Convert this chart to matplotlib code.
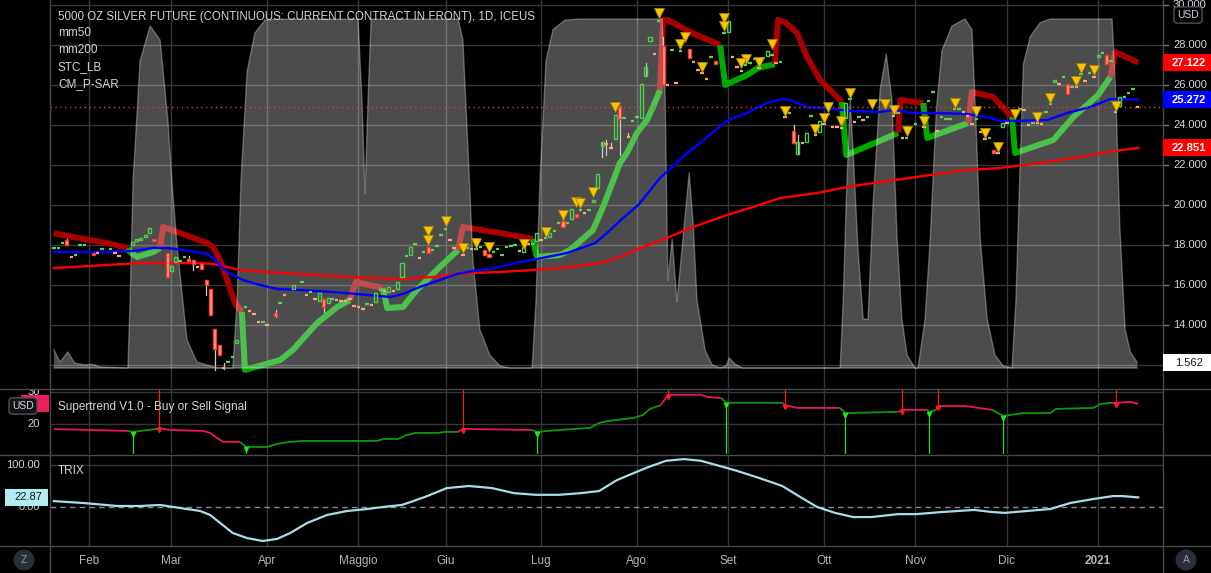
import matplotlib.pyplot as plt
import matplotlib.transforms as mtransforms
from matplotlib.lines import Line2D
from matplotlib.patches import Rectangle, Polygon, Ellipse

plt.rcParams['font.family'] = ['Liberation Sans', 'DejaVu Sans']

# ---------------- data (x = trading-day index, 0 = mid Jan 2020) ----------------
month_bars = [8, 27, 49, 70, 90, 112, 134, 155, 177, 198, 219, 240]
month_labels = ['Feb', 'Mar', 'Apr', 'Maggio', 'Giu', 'Lug', 'Ago', 'Set', 'Ott', 'Nov', 'Dic', '2021']

candle_bar = [0, 1, 2, 3, 4, 5, 6, 7, 9, 10, 11, 13, 14, 15, 18, 19, 20, 21, 22, 23,
              26, 27, 28, 29, 30, 31, 32, 33, 34, 35, 36, 37, 38, 39, 40, 41, 42, 44, 45, 46,
              47, 48, 49, 51, 52, 53, 55, 57, 58, 59, 60, 61, 62, 63, 64, 65, 66, 67, 68, 69,
              70, 71, 72, 73, 74, 75, 76, 77, 78, 79, 80, 81, 82, 83, 84, 85, 86, 87, 88, 89,
              90, 91, 92, 94, 95, 96, 97, 98, 99, 100, 101, 102, 103, 104, 105, 106, 107, 108, 109, 110,
              111, 112, 113, 114, 115, 116, 117, 118, 119, 120, 121, 122, 123, 124, 125, 126, 127, 128, 129, 130,
              131, 132, 133, 134, 135, 136, 137, 138, 139, 140, 141, 142, 143, 144, 146, 147, 148, 149, 150, 151,
              152, 154, 155, 156, 157, 158, 159, 160, 161, 162, 163, 164, 165, 166, 167, 168, 169, 170, 171, 172,
              173, 174, 175, 176, 177, 178, 179, 180, 181, 182, 183, 184, 185, 186, 187, 190, 193, 194, 195, 196,
              198, 200, 201, 202, 203, 204, 205, 206, 207, 208, 209, 210, 211, 212, 213, 214, 215, 216, 217, 218,
              219, 222, 223, 224, 225, 226, 227, 228, 229, 230, 231, 232, 233, 234, 235, 236, 237, 238, 239, 240,
              241, 242, 243, 244, 245, 246, 247, 248, 249]
candle_open = [17.83, 17.83, 18.08, 18.25, 17.42, 17.48, 17.98, 17.98, 17.6, 17.62, 17.78, 17.78, 17.62, 17.47, 18.0, 18.2, 18.25, 18.4, 18.6, 18.3,
               17.6, 16.7, 17.15, 17.18, 17.38, 17.3, 17.25, 16.92, 17.05, 16.25, 15.8, 13.8, 13.0, 11.9, 12.13, 12.38, 13.1, 14.88, 14.72, 14.57,
               14.17, 14.13, 14.02, 14.6, 15.08, 15.52, 15.8, 16.13, 15.52, 15.63, 15.32, 15.2, 15.3, 15.1, 15.28, 15.27, 15.22, 15.22, 15.35, 14.97,
               14.92, 14.82, 15.03, 15.02, 15.15, 15.73, 15.72, 15.65, 15.72, 15.8, 16.4, 17.43, 17.5, 18.03, 17.37, 17.63, 17.9, 17.73, 17.93, 18.48,
               18.78, 18.27, 17.9, 17.52, 17.83, 17.82, 17.78, 17.85, 17.75, 17.55, 17.63, 17.78, 17.48, 17.85, 17.93, 17.98, 17.72, 17.65, 18.07, 18.03,
               18.2, 18.27, 18.33, 18.4, 18.68, 19.08, 19.2, 19.08, 19.3, 19.55, 19.73, 19.62, 19.73, 20.15, 20.85, 22.95, 23.07, 22.87, 23.3, 24.9,
               24.33, 23.42, 24.18, 24.38, 24.35, 26.45, 28.2, 27.57, 29.18, 27.95, 26.02, 27.73, 26.12, 27.68, 27.8, 27.17, 26.77, 26.62, 26.32, 27.38,
               27.2, 28.58, 28.65, 27.42, 26.92, 26.72, 26.98, 27.08, 27.28, 26.87, 27.33, 27.45, 27.48, 27.12, 27.13, 24.42, 24.58, 23.7, 22.55, 23.12,
               23.15, 24.43, 23.52, 23.65, 24.07, 24.53, 23.92, 23.92, 23.87, 24.35, 25.28, 24.17, 24.38, 24.27, 24.38, 25.23, 24.47, 24.58, 23.37, 23.33,
               24.03, 23.92, 25.18, 25.63, 23.72, 24.38, 24.28, 24.28, 24.78, 24.78, 24.67, 24.47, 24.07, 24.28, 23.67, 23.32, 23.33, 22.75, 22.62, 23.9,
               24.12, 24.78, 24.77, 24.02, 24.08, 24.12, 24.07, 24.63, 25.03, 26.15, 26.07, 26.38, 26.05, 25.88, 25.92, 26.53, 26.22, 26.58, 26.42, 27.4,
               27.58, 27.5, 27.18, 24.67, 24.95, 25.38, 25.58, 25.78, 24.92]
candle_close = [17.87, 17.87, 18.12, 18.0, 17.38, 17.52, 18.02, 18.02, 17.5, 17.58, 17.82, 17.82, 17.58, 17.43, 18.15, 18.3, 18.35, 18.5, 18.85, 18.2,
                16.4, 16.95, 17.4, 17.22, 17.42, 17.2, 17.05, 16.88, 16.8, 16.0, 14.5, 12.8, 12.5, 11.8, 12.17, 12.42, 13.25, 14.92, 14.68, 14.53,
                14.13, 14.17, 13.98, 14.45, 15.12, 15.48, 16.0, 16.17, 15.48, 15.67, 15.28, 15.6, 14.9, 15.35, 15.32, 15.23, 15.18, 15.18, 15.25, 14.93,
                14.88, 14.78, 15.07, 14.98, 15.6, 15.77, 15.68, 15.9, 15.68, 16.15, 17.1, 17.47, 17.9, 18.07, 17.33, 17.67, 17.6, 17.77, 17.97, 18.52,
                18.82, 18.23, 17.8, 17.48, 17.87, 17.78, 17.82, 17.95, 17.5, 17.4, 17.67, 17.82, 17.52, 17.95, 17.97, 18.02, 17.68, 17.9, 18.03, 18.07,
                18.6, 18.23, 18.37, 18.6, 18.72, 19.12, 18.9, 19.12, 19.8, 19.4, 19.77, 19.58, 19.77, 20.25, 21.55, 23.15, 23.03, 22.83, 24.5, 24.3,
                24.37, 23.38, 24.22, 24.42, 26.05, 26.9, 28.4, 27.53, 29.22, 26.05, 25.98, 27.77, 26.08, 27.72, 27.35, 27.13, 26.73, 26.58, 26.28, 27.42,
                27.05, 28.62, 29.2, 27.38, 26.88, 26.68, 27.02, 27.12, 27.32, 26.83, 27.37, 27.7, 27.52, 27.08, 27.17, 24.38, 24.62, 23.1, 23.15, 23.08,
                23.6, 24.47, 23.48, 24.2, 24.03, 24.57, 23.88, 23.88, 23.83, 25.1, 25.32, 24.13, 24.42, 24.23, 24.42, 25.27, 24.43, 24.62, 23.33, 23.37,
                24.07, 23.88, 25.22, 25.67, 23.68, 24.42, 24.32, 24.32, 24.82, 24.82, 24.63, 24.43, 24.03, 24.32, 23.63, 23.28, 23.37, 22.6, 22.58, 24.1,
                24.08, 24.82, 24.73, 23.98, 24.12, 24.08, 24.03, 24.67, 25.07, 26.25, 26.03, 26.42, 25.55, 25.92, 25.88, 26.57, 26.18, 26.62, 26.38, 27.5,
                27.62, 27.05, 27.22, 24.63, 25.4, 25.42, 25.62, 25.82, 24.88]

wick_bar = [3, 31, 32, 35, 37, 39, 51, 62, 117, 126, 127, 128, 130, 132, 136, 140, 170, 171]
wick_high = [18.3, 17.45, 17.25, 16.25, 13.8, 12.1, 14.75, 15.3, 19.35, 23.15, 23.25, 23.1, 24.95, 23.6, 27.1, 28.4, 24.0, 23.5]
wick_low = [18.0, 17.2, 16.75, 15.5, 11.75, 11.8, 14.4, 14.65, 18.9, 22.4, 22.5, 22.83, 22.5, 23.38, 26.45, 26.05, 23.1, 22.55]

mm50_bar = [0, 4.4, 12.2, 18.2, 22.8, 26.0, 31.3, 35.2, 36.6, 38.6, 39.8, 43.4, 47.4, 51.3, 56.6, 64.1, 69.7, 77.2, 80.2, 84.1,
            88.7, 92.6, 96.3, 102.5, 107.1, 111.0, 117.9, 124.4, 127.1, 130.8, 134.3, 139.3, 142.1, 145.5, 148.5, 151.5, 155.0, 159.3, 163.9, 167.4,
            169.2, 173.1, 176.8, 183.0, 189.9, 192.9, 197.5, 203.0, 209.9, 214.5, 217.5, 220.5, 228.3, 232.9, 238.2, 242.8, 249.2]
mm50_val = [17.65, 17.65, 17.65, 17.7, 17.85, 17.85, 17.7, 17.55, 17.35, 16.9, 16.65, 16.25, 16.0, 15.8, 15.75, 15.65, 15.55, 15.4, 15.55, 15.9,
            16.25, 16.55, 16.7, 16.9, 17.15, 17.3, 17.6, 18.1, 18.6, 19.35, 20.0, 21.35, 21.9, 22.6, 23.1, 23.65, 24.25, 24.6, 25.1, 25.3,
            25.25, 24.9, 24.85, 24.7, 24.65, 24.75, 24.6, 24.6, 24.55, 24.4, 24.2, 24.2, 24.25, 24.6, 24.9, 25.3, 25.272]

mm200_bar = [0, 4.4, 12.2, 19.8, 26.0, 32.9, 36.6, 39.8, 42.8, 45.1, 56.6, 68.0, 79.5, 87.1, 91.0, 96.3, 102.5, 110.1, 118.6, 125.5,
             130.1, 135.4, 140.9, 146.9, 154.7, 160.7, 166.9, 175.4, 182.3, 189.9, 201.4, 209.9, 217.5, 228.3, 235.9, 242.1, 249.2]
mm200_val = [16.85, 16.9, 17.0, 17.1, 17.1, 17.1, 17.05, 16.9, 16.75, 16.7, 16.55, 16.4, 16.3, 16.4, 16.5, 16.6, 16.65, 16.75, 16.9, 17.1,
             17.4, 17.9, 18.35, 18.9, 19.5, 19.9, 20.35, 20.6, 20.9, 21.15, 21.5, 21.75, 21.85, 22.15, 22.4, 22.65, 22.851]

sar_bar = [0, 4.4, 12.2, 17.0, 17.5, 19.1, 22.8, 24.4, 25.1, 29.0, 35.2, 36.6, 38.2, 39.8, 41.6, 43.2, 43.9, 52.0, 54.9, 60.5,
           65.1, 68.0, 69.4, 75.6, 76.6, 80.2, 83.4, 88.7, 92.9, 94.0, 102.5, 110.1, 111.0, 116.3, 118.6, 123.9, 126.2, 130.1, 131.7, 134.0,
           136.3, 137.7, 139.3, 140.0, 141.1, 146.2, 153.1, 154.3, 159.3, 161.8, 165.7, 166.4, 168.0, 170.8, 173.1, 176.1, 179.1, 181.1, 182.1, 189.2,
           194.0, 194.5, 199.8, 200.7, 210.1, 211.0, 215.9, 220.2, 220.9, 229.7, 234.3, 240.0, 242.8, 243.9, 249.2]
sar_val = [18.58, 18.4, 18.1, 17.85, 17.65, 17.4, 17.65, 17.85, 18.9, 18.6, 18.1, 17.9, 17.25, 16.25, 15.1, 14.65, 11.75, 12.25, 12.75, 14.1,
           14.9, 15.25, 16.15, 15.85, 14.85, 14.9, 15.75, 16.9, 17.75, 18.9, 18.6, 18.3, 17.4, 17.5, 17.75, 18.75, 19.9, 22.1, 22.6, 23.6,
           24.25, 24.9, 25.75, 29.25, 29.25, 28.65, 28.0, 26.0, 26.5, 26.85, 27.05, 29.25, 29.15, 28.6, 27.4, 26.25, 25.6, 25.15, 22.5, 23.15,
           23.6, 25.25, 25.1, 23.35, 24.1, 25.65, 25.4, 24.4, 22.6, 23.25, 24.4, 25.5, 26.4, 27.65, 27.122]
sar_trend = [-1, -1, -1, -1, 1, 1, 1, 1, -1, -1, -1, -1, -1, -1, -1, -1, 1, 1, 1, 1,
             1, 1, -1, -1, 1, 1, 1, 1, 1, -1, -1, -1, 1, 1, 1, 1, 1, 1, 1, 1,
             1, 1, 1, -1, -1, -1, -1, 1, 1, 1, 1, -1, -1, -1, -1, -1, -1, -1, 1, 1,
             1, -1, -1, 1, 1, -1, -1, -1, 1, 1, 1, 1, 1, -1, -1]

stc_bar = [0, 1.4, 3.2, 4.8, 7.1, 8.7, 10.6, 17.0, 17.5, 18.2, 19.8, 22.1, 24.4, 26.2, 27.1, 28.3, 30.6, 32.9, 37.5, 41.1,
           42.1, 43.0, 44.4, 46.2, 48.5, 52.0, 69.9, 70.8, 71.5, 72.2, 72.9, 92.9, 94.0, 95.2, 96.3, 97.9, 100.2, 102.5, 104.8, 109.9,
           110.8, 111.7, 113.1, 114.7, 117.5, 120.9, 139.8, 140.5, 141.1, 142.1, 143.2, 146.0, 146.9, 147.8, 149.7, 151.3, 153.1, 154.5, 155.2, 156.6,
           158.2, 180.7, 181.4, 182.1, 183.0, 183.7, 184.8, 186.0, 187.1, 188.3, 189.9, 191.3, 192.6, 193.8, 194.9, 196.1, 197.9, 198.6, 200.2, 201.4,
           202.8, 204.1, 206.4, 209.4, 211.0, 211.9, 212.9, 214.5, 216.3, 218.2, 220.2, 221.1, 221.8, 222.8, 224.4, 226.7, 229.0, 243.2, 244.1, 245.0,
           246.2, 247.4, 249.0]
stc_val = [5.2, 1.7, 4.6, 1.4, 0.9, 1.1, 0.3, 0.0, 19.5, 54, 88, 98, 94, 71, 54, 35, 8, 1.7, 0, 0,
           19.5, 54, 85, 96, 99.7, 100, 100, 77, 50, 77, 100, 100, 94, 62, 31, 11, 3.7, 0.6, 0, 0,
           19.5, 54, 88, 97, 99.7, 100, 100, 77, 25, 37, 19, 56, 42, 19.5, 5, 0.9, 0, 0.6, 2.9, 1.1,
           0, 0, 19.5, 48, 77, 62, 34, 14, 14, 48, 80, 90, 77, 37, 14, 3.7, 0, 0, 14, 37,
           74, 91, 98, 100, 97, 71, 37, 14, 3.7, 0.6, 0, 19.5, 48, 87, 95, 99, 100, 100, 77, 40,
           11, 4.6, 1.562]

tri_bar = [86, 86, 90, 94, 97, 100, 108, 113, 117, 120, 121, 124, 129, 139, 145, 144, 149, 154, 154, 159,
           158, 162, 165, 168, 178, 177, 175, 181, 183, 188, 191, 193, 196, 200, 207, 212, 214, 217, 221, 226,
           229, 235, 236, 239, 244]
tri_val = [18.7, 18.25, 19.2, 17.85, 18.1, 17.9, 18.05, 18.65, 19.5, 20.15, 20.1, 20.65, 24.9, 29.6, 28.4, 28.05, 26.9, 29.35, 28.95, 27.3,
           27.1, 27.15, 28.05, 24.7, 24.9, 24.35, 23.8, 24.2, 25.6, 25.05, 25.05, 24.75, 23.7, 24.2, 25.1, 24.7, 23.6, 22.9, 24.55, 24.4,
           25.35, 26.2, 26.85, 26.75, 24.95]

st_bar = [0, 17.0, 18.2, 23.7, 24.1, 26.7, 34.3, 35.9, 37.5, 38.9, 42.8, 44.1, 49.0, 51.3, 54.3, 57.2, 74.3, 75.6, 79.1, 81.1,
          83.2, 88.3, 89.9, 92.9, 94.0, 109.9, 111.0, 116.1, 123.2, 125.3, 127.4, 133.3, 135.4, 137.0, 139.5, 141.1, 148.7, 150.3, 153.3, 154.5,
          167.4, 168.0, 170.8, 180.7, 181.8, 194.0, 194.9, 200.7, 201.1, 202.8, 203.2, 209.4, 215.6, 218.2, 222.8, 229.0, 230.3, 238.9, 240.5, 243.2,
          244.1, 247.4, 249.2]
st_val = [18.4, 17.8, 17.5, 18.45, 18.75, 18.1, 17.8, 17.2, 15.6, 14.4, 14.4, 12.8, 12.8, 13.75, 14.4, 14.7, 14.7, 15.3, 15.3, 16.55,
          17.2, 17.2, 17.5, 17.5, 18.45, 18.1, 17.5, 18.1, 18.75, 20.3, 20.9, 21.9, 22.8, 24.7, 25.9, 29.1, 29.1, 28.4, 28.1, 26.6,
          26.6, 25.9, 25.0, 25.0, 23.4, 23.75, 24.4, 24.4, 23.75, 24.4, 25.6, 25.6, 24.4, 22.5, 23.4, 23.4, 24.7, 25.0, 26.25, 26.6,
          26.6, 26.9, 26.25]
st_trend = [-1, -1, 1, 1, -1, -1, -1, -1, -1, -1, -1, 1, 1, 1, 1, 1, 1, 1, 1, 1,
            1, 1, 1, 1, -1, -1, 1, 1, 1, 1, 1, 1, 1, 1, 1, -1, -1, -1, -1, 1,
            1, -1, -1, -1, 1, 1, -1, -1, 1, 1, -1, -1, -1, 1, 1, 1, 1, 1, 1, 1,
            -1, -1, -1]
st_buy_bar = [18.2, 44.1, 111.0, 154.5, 181.8, 201.1, 218.2]
st_buy_val = [17.5, 12.8, 17.5, 26.6, 23.4, 23.75, 22.5]
st_sell_bar = [24.1, 94.0, 141.1, 168.0, 194.9, 203.2, 244.1]
st_sell_val = [18.75, 18.45, 29.1, 25.9, 24.4, 25.6, 26.6]

trix_bar = [0, 6.7, 14.5, 19.8, 24.4, 29.0, 33.6, 35.9, 38.2, 41.1, 44.4, 48.0, 51.3, 54.3, 58.2, 62.8, 67.4, 72.0, 75.6, 80.0,
            85.3, 90.3, 95.4, 100.7, 105.7, 110.8, 116.1, 121.1, 125.3, 129.4, 133.3, 136.6, 140.7, 144.8, 148.7, 152.9, 157.0, 162.1, 167.4, 171.5,
            175.4, 179.5, 183.7, 187.8, 194.0, 198.2, 204.1, 211.5, 215.6, 218.6, 223.7, 229.0, 233.6, 238.9, 243.4, 245.5, 249.2]
trix_val = [14, 9.5, 2.4, 2.4, 4.8, -2.4, -9.5, -19, -38, -62, -74, -81, -76, -62, -38, -19, -9.5, -4.8, 0, 4.8,
            24, 45, 50, 45, 33, 29, 29, 33, 38, 64, 81, 95, 110, 114, 110, 98, 86, 69, 50, 24,
            0, -14, -24, -24, -17, -17, -12, -7, -12, -14, -9.5, -4.8, 9.5, 19, 26, 26, 22.87]

# ---------------- style ----------------
W, H = 1211, 573
BG = '#000000'
TXT = '#d1d4dc'
GRID = '#363636'
SEP = '#4a4a4a'

fig = plt.figure(figsize=(W / 100, H / 100), dpi=100, facecolor=BG)


def fx(x):
    return x / W


def fy(y):
    return 1 - y / H


def pane(top, bottom, ylim):
    a = fig.add_axes([fx(50), fy(bottom), fx(1163) - fx(50), (bottom - top) / H])
    a.set_facecolor(BG)
    a.set_xlim(-0.9, 254.9)
    a.set_ylim(*ylim)
    for s in a.spines.values():
        s.set_visible(False)
    a.set_xticks([])
    a.set_yticks([])
    for b in month_bars:
        a.axvline(b, color=GRID, lw=1, zorder=0)
    return a


def trend_line(a, xs, ys, trend, colors, lw, zorder):
    # each run of same trend is drawn from the last point of the previous run
    start = 0
    for i in range(1, len(xs) + 1):
        if i == len(xs) or trend[i] != trend[start]:
            j = max(start - 1, 0)
            a.plot(xs[j:i], ys[j:i], color=colors[trend[start]], lw=lw,
                   solid_joinstyle='round', solid_capstyle='butt', zorder=zorder)
            start = i


def value_box(val, tr, text, fc, tc, x0=1163, x1=1211, weight='bold', fs=8):
    yd = tr.transform((0, val))[1]
    yc = yd / (fig.dpi * fig.get_figheight())
    fig.add_artist(Rectangle((fx(x0), yc - 8.5 / H), fx(x1) - fx(x0), 17 / H,
                             transform=fig.transFigure, fc=fc, ec='none', zorder=5))
    if text:
        fig.text(fx((x0 + x1) / 2 + 2), yc, text, ha='center', va='center', color=tc,
                 fontsize=fs, weight=weight, zorder=6)
    return yc


# ---------------- main pane ----------------
ax = pane(0, 388, (10.85, 30.25))
for v in range(12, 31, 2):
    ax.axhline(v, color=GRID, lw=1, zorder=0)

trend_line(ax, sar_bar, sar_val, sar_trend, {1: '#00a800', -1: '#a80000'}, 4.3, 1)

# STC drawn on its own 0-100 scale inside the price pane
stc_tr = mtransforms.blended_transform_factory(
    ax.transData, mtransforms.Affine2D().scale(1, 0.008995).translate(0, 0.05155) + ax.transAxes)
verts = [(stc_bar[0], 0)] + list(zip(stc_bar, stc_val)) + [(stc_bar[-1], 0)]
ax.add_patch(Polygon(verts, closed=True, transform=stc_tr, fc='white', alpha=0.3, ec='none', zorder=2))
ax.plot(stc_bar, stc_val, color='white', alpha=0.3, lw=1, transform=stc_tr, zorder=2.1)
ax.plot([stc_bar[0], stc_bar[-1]], [0, 0], color='white', alpha=0.3, lw=1.2, transform=stc_tr, zorder=2.1)

ax.plot(mm200_bar, mm200_val, color='#ff0000', lw=1.7, zorder=3)
ax.plot(mm50_bar, mm50_val, color='#0000ff', lw=1.7, zorder=3)
ax.axhline(candle_close[-1], color='#e53935', lw=1, ls=(0, (1, 2.5)), zorder=3)

for b, hi, lo in zip(wick_bar, wick_high, wick_low):
    ax.plot([b, b], [lo, hi], color='#c8c8c8', lw=0.9, zorder=3.5)
for b, o, c in zip(candle_bar, candle_open, candle_close):
    up = c >= o
    if abs(c - o) < 0.1:
        m = (o + c) / 2
        ax.plot([b - 0.4, b + 0.4], [m, m], color='#5ccf5c' if up else '#ffa27a',
                lw=1.6, solid_capstyle='butt', zorder=4)
    else:
        ax.add_patch(Rectangle((b - 0.35, min(o, c)), 0.7, abs(c - o),
                               fc='none' if up else '#ffa07a',
                               ec='#4cd04c' if up else '#f23b2f', lw=1, zorder=4))

ax.plot(tri_bar, tri_val, 'v', ms=6.5, mfc='#f7c600', mec='#a88400', mew=0.6, ls='none', zorder=5)

# right price scale
ytr = ax.get_yaxis_transform()
for v in range(14, 31, 2):
    ax.text(1 + 10 / 1113, v, f'{v:.3f}', transform=ytr, ha='left', va='center',
            fontsize=8, color=TXT, clip_on=False)
    ax.plot([1, 1 + 5 / 1113], [v, v], transform=ytr, color='#787b86', lw=1, clip_on=False)
value_box(sar_val[-1], ax.transData, f'{sar_val[-1]:.3f}', '#ff0000', 'white')
value_box(mm50_val[-1], ax.transData, f'{mm50_val[-1]:.3f}', '#0000ff', 'white')
value_box(mm200_val[-1], ax.transData, f'{mm200_val[-1]:.3f}', '#ff0000', 'white')
value_box(stc_val[-1], stc_tr, f'{stc_val[-1]:.3f}', '#ffffff', '#131722', weight='normal')
fig.text(fx(1188), fy(15), 'USD', ha='center', va='center', fontsize=7.5, color=TXT,
         bbox=dict(boxstyle='round,pad=0.3', fc=BG, ec='#50535e', lw=1))

fig.text(fx(58), fy(17), '5000 OZ SILVER FUTURE (CONTINUOUS: CURRENT CONTRACT IN FRONT), 1D, ICEUS',
         ha='left', va='center', fontsize=8.3, color=TXT)
for i, name in enumerate(['mm50', 'mm200', 'STC_LB', 'CM_P-SAR']):
    fig.text(fx(58), fy(33 + 17 * i), name, ha='left', va='center', fontsize=8.5, color=TXT)

# ---------------- supertrend pane ----------------
ax_st = pane(390, 454, (10.6, 30.6))
for v in (20, 30):
    ax_st.axhline(v, color=GRID, lw=1, zorder=0)
trend_line(ax_st, st_bar, st_val, st_trend, {1: '#0a9a0a', -1: '#e8175d'}, 1.3, 2)
for b, v in zip(st_buy_bar, st_buy_val):
    ax_st.plot([b, b], [10.6, v], color='#1ee61e', lw=0.9, zorder=1.5)
    ax_st.plot(b, v - 0.6, marker='v', ms=3, color='#1ee61e', zorder=3)
for b, v in zip(st_sell_bar, st_sell_val):
    ax_st.plot([b, b], [v, 30.6], color='#ff1a1a', lw=0.9, zorder=1.5)
    ax_st.plot(b, v - 0.6, marker='v', ms=3, color='#ff1a1a', zorder=3)

stytr = ax_st.get_yaxis_transform()
ax_st.text(-10 / 1113, 20, '20', transform=stytr, ha='right', va='center', fontsize=8, color=TXT, clip_on=False)
t30 = ax_st.text(-10 / 1113, 30, '30', transform=stytr, ha='right', va='center', fontsize=8, color=TXT)
t30.set_clip_box(mtransforms.TransformedBbox(mtransforms.Bbox([[0, fy(454)], [fx(50), fy(390)]]), fig.transFigure))
t30.set_clip_on(True)
value_box(st_val[-1], ax_st.transData, '', '#ee1c5b', 'white', x0=21, x1=49)
fig.text(fx(23), fy(406), 'USD', ha='center', va='center', fontsize=7.5, color=TXT, zorder=7,
         bbox=dict(boxstyle='round,pad=0.3', fc='#131313', ec='#50535e', lw=1))
fig.text(fx(58), fy(407), 'Supertrend V1.0 - Buy or Sell Signal', ha='left', va='center',
         fontsize=8.5, color=TXT)

# ---------------- TRIX pane ----------------
ax_tx = pane(455, 546, (-92.9, 123.8))
ax_tx.axhline(100, color=GRID, lw=1, zorder=0)
ax_tx.axhline(0, color='#8a8a8a', lw=1, ls=(0, (4, 3)), zorder=1)
ax_tx.plot(trix_bar, trix_val, color='#a8dde8', lw=1.6, zorder=2)
txytr = ax_tx.get_yaxis_transform()
for v in (100, 0):
    ax_tx.text(-10 / 1113, v, f'{v:.2f}', transform=txytr, ha='right', va='center',
               fontsize=8, color=TXT, clip_on=False)
value_box(trix_val[-1], ax_tx.transData, f'{trix_val[-1]:.2f}', '#b2ebf2', '#131722',
          x0=5, x1=48, weight='normal')
fig.text(fx(58), fy(471), 'TRIX', ha='left', va='center', fontsize=8.5, color=TXT)

xl_tr = mtransforms.blended_transform_factory(ax_tx.transData, ax_tx.transAxes)
for b, lab in zip(month_bars, month_labels):
    ax_tx.text(b, -0.165, lab, transform=xl_tr, ha='center', va='center', fontsize=8.5,
               color='#b2b5be', weight='bold' if lab == '2021' else 'normal', clip_on=False)

# ---------------- frame lines and corner buttons ----------------
for y in (389, 454.5, 546):
    fig.add_artist(Line2D([0, 1], [fy(y), fy(y)], transform=fig.transFigure, color=SEP, lw=1))
for x in (49.5, 1163):
    fig.add_artist(Line2D([fx(x), fx(x)], [0, 1], transform=fig.transFigure, color=SEP, lw=1))
for cx, letter in ((24, 'Z'), (1186, 'A')):
    fig.add_artist(Ellipse((fx(cx), fy(560)), 21 / W, 21 / H, transform=fig.transFigure,
                           fc='#2a2e39', ec='none'))
    fig.text(fx(cx), fy(560), letter, ha='center', va='center', fontsize=7.5, color='#9598a1')

fig.savefig('out.png', dpi=100, facecolor=BG)
